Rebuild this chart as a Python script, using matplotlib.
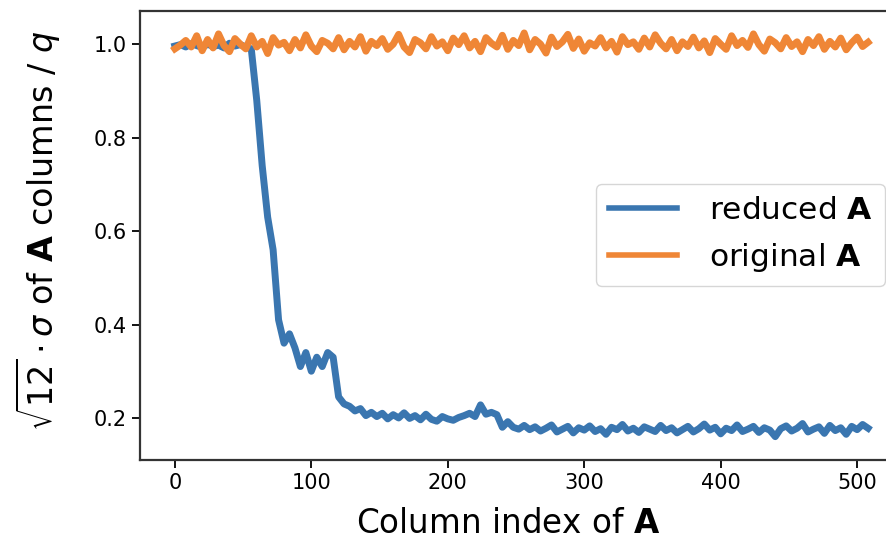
import numpy as np
import matplotlib
matplotlib.use("Agg")
import matplotlib.pyplot as plt

# column index, sampled every 4 columns
cols = np.arange(0, 512, 4)

reduced = [0.996, 0.999, 0.994, 1.001, 0.997, 0.993, 1.000, 0.995, 0.998, 0.992,
           1.002, 0.996, 0.999, 0.994,
           0.99, 0.88, 0.74, 0.63, 0.56, 0.41, 0.36, 0.38, 0.35, 0.31,
           0.34, 0.30, 0.33, 0.31, 0.34, 0.33, 0.245, 0.23, 0.225, 0.215,
           0.22, 0.205, 0.212, 0.203, 0.21, 0.198, 0.207, 0.20, 0.211, 0.199,
           0.205, 0.196, 0.208, 0.197, 0.193, 0.203, 0.198, 0.195, 0.201, 0.205,
           0.21, 0.203, 0.228, 0.208, 0.212, 0.207, 0.18, 0.192, 0.18, 0.176,
           0.184, 0.175,
           0.181, 0.172, 0.178, 0.185, 0.170, 0.176, 0.182, 0.168, 0.179, 0.174,
           0.183, 0.171, 0.177, 0.165, 0.180, 0.175, 0.186, 0.172, 0.178, 0.169,
           0.181, 0.176, 0.171, 0.184, 0.173, 0.179, 0.168, 0.175, 0.182, 0.170,
           0.177, 0.187, 0.174, 0.180, 0.166, 0.178, 0.173, 0.185, 0.171, 0.176,
           0.182, 0.169, 0.179, 0.174, 0.160, 0.177, 0.183, 0.172, 0.178, 0.188,
           0.170, 0.176, 0.181, 0.167, 0.184, 0.173, 0.179, 0.165, 0.182, 0.175,
           0.186, 0.178]

original = [0.990, 0.998, 1.008, 0.994, 1.018, 0.986, 1.010, 0.992, 1.022, 0.997,
            0.984, 1.012, 1.000, 0.990, 1.018, 0.994, 1.006, 0.980, 1.014, 0.998,
            1.004, 0.986, 1.010, 0.992, 1.020, 0.996, 0.984, 1.008, 1.002, 0.990,
            1.014, 0.988, 1.006, 0.994, 1.016, 0.985, 1.006, 0.997, 1.012, 0.989,
            1.000, 1.021, 0.994, 0.982, 1.010, 1.003, 0.990, 1.016, 0.996, 1.005,
            0.986, 1.013, 0.999, 1.018, 0.992, 1.006, 0.984, 1.014, 1.002, 0.994,
            1.019, 0.989, 1.008, 0.997, 1.024, 0.988, 1.010, 1.000, 0.981, 1.015,
            0.995, 1.005, 1.021, 0.991, 1.011, 0.985, 1.003, 0.996, 1.014, 0.992,
            1.006, 0.983, 1.016, 0.999, 1.005, 0.989, 1.013, 0.994, 1.020, 1.002,
            0.990, 1.010, 0.986, 1.005, 0.995, 1.015, 0.992, 1.007, 0.982, 1.012,
            1.000, 0.989, 1.018, 0.997, 1.008, 0.993, 1.022, 0.999, 0.985, 1.011,
            1.003, 0.990, 1.014, 0.995, 1.005, 0.984, 1.010, 0.997, 1.016, 0.989,
            1.006, 0.994, 1.013, 0.988, 1.003, 1.015, 0.995, 1.004]

fig = plt.figure(figsize=(8.87, 5.45), dpi=100)
# the right spine sits just outside the picture, as in the reference crop
ax = fig.add_axes([140 / 887, 85 / 545, 767 / 887, 449 / 545])

ax.plot(cols, reduced, color='#3a76b0', lw=5, label=r'reduced $\mathbf{A}$')
ax.plot(cols, original, color='#ef8636', lw=5, label=r'original $\mathbf{A}$')

ax.set_xlim(-25.55, 536.55)
ax.set_ylim(0.110, 1.071)
ax.set_xticks([0, 100, 200, 300, 400, 500])
ax.set_yticks([0.2, 0.4, 0.6, 0.8, 1.0])
ax.tick_params(labelsize=15, length=6, width=1.3)
for s in ax.spines.values():
    s.set_linewidth(1.6)
    s.set_color('#333333')

ax.set_xlabel(r'Column index of $\mathbf{A}$', fontsize=23.5)
ax.xaxis.set_label_coords(0.48, -0.105)
ax.set_ylabel(r'$\sqrt{12}\cdot\sigma$ of $\mathbf{A}$ columns / $q$', fontsize=24)
ax.yaxis.set_label_coords(-0.102, 0.51)

leg = ax.legend(loc='center right', bbox_to_anchor=(885 / 887, 1 - 235 / 545),
                bbox_transform=fig.transFigure, fontsize=22.5, handlelength=2.2,
                handletextpad=1.0, borderaxespad=0)
for h in leg.get_lines():
    h.set_linewidth(4)

fig.savefig('out.png', dpi=100)
